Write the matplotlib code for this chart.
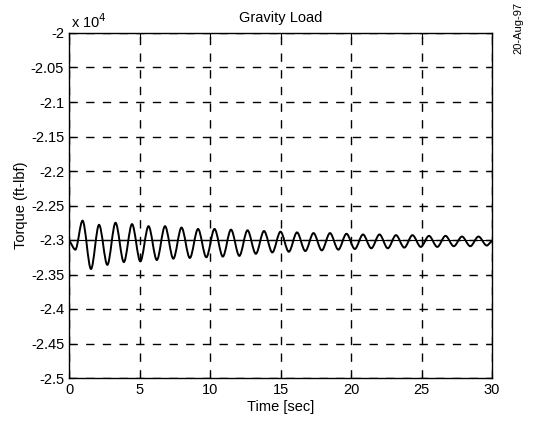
import matplotlib
matplotlib.use("Agg")
import matplotlib.pyplot as plt
from matplotlib.ticker import FuncFormatter
from matplotlib.path import Path
from matplotlib.patches import PathPatch

plt.rcParams['font.family'] = ['Liberation Sans', 'DejaVu Sans']

# torque, ft-lbf (turning points of the oscillation)
time_s = [0.0, 0.45, 0.96, 1.56, 2.13, 2.72, 3.30, 3.89, 4.47, 5.06, 5.64, 6.23,
          6.81, 7.40, 7.98, 8.57, 9.15, 9.74, 10.32, 10.91, 11.49, 12.08, 12.66,
          13.25, 13.83, 14.42, 15.00, 15.59, 16.17, 16.76, 17.34, 17.93, 18.51,
          19.10, 19.68, 20.27, 20.85, 21.44, 22.02, 22.61, 23.19, 23.78, 24.36,
          24.95, 25.53, 26.12, 26.70, 27.29, 27.87, 28.46, 29.04, 29.63, 30.0]
torque = [-23020, -23140, -22720, -23420, -22780, -23360, -22750, -23320, -22770,
          -23310, -22800, -23290, -22800, -23270, -22820, -23260, -22840, -23250,
          -22840, -23240, -22850, -23230, -22860, -23200, -22870, -23180, -22880,
          -23170, -22890, -23160, -22900, -23150, -22900, -23140, -22910, -23130,
          -22920, -23120, -22920, -23120, -22930, -23110, -22930, -23100, -22940,
          -23100, -22940, -23090, -22950, -23090, -22950, -23080, -23020]
static_t = [0.0, 30.0]
static_torque = [-23000, -23000]

scale = 1e4

fig = plt.figure(figsize=(5.34, 4.25), dpi=100)
ax = fig.add_axes([69/534, 1-378/425, 423/534, 345/425])

ax.plot(static_t, [v/scale for v in static_torque], color='black', linewidth=0.8)

# smooth curve through the turning points (flat tangent at each one)
ys = [v/scale for v in torque]
verts = [(time_s[0], ys[0])]
codes = [Path.MOVETO]
for i in range(1, len(time_s)):
    dt = time_s[i] - time_s[i-1]
    verts += [(time_s[i-1] + dt/3, ys[i-1]), (time_s[i] - dt/3, ys[i]), (time_s[i], ys[i])]
    codes += [Path.CURVE4] * 3
ax.add_patch(PathPatch(Path(verts, codes), facecolor='none', edgecolor='black',
                       linewidth=1.4, transform=ax.transData))

ax.set_xlim(0, 30)
ax.set_ylim(-2.5, -2.0)
ax.set_xticks([0, 5, 10, 15, 20, 25, 30])
ax.set_yticks([-2.5, -2.45, -2.4, -2.35, -2.3, -2.25, -2.2, -2.15, -2.1, -2.05, -2.0])
ax.yaxis.set_major_formatter(FuncFormatter(lambda v, p: '%g' % round(v, 2)))
ax.tick_params(direction='in', top=True, right=True, length=4, labelsize=10.5, colors='black')
ax.grid(True, color='black', linestyle=(0, (6, 6)), linewidth=1.0)
for s in ax.spines.values():
    s.set_linewidth(1.0)

ax.set_title('Gravity Load', fontsize=10.5, pad=8)
ax.set_xlabel('Time [sec]', fontsize=10.5, labelpad=2)
ax.set_ylabel('Torque (ft-lbf)', fontsize=10.5, labelpad=2)
ax.text(0.005, 1.005, r'x 10$^4$', transform=ax.transAxes, fontsize=10.5, ha='left', va='bottom')
fig.text(518/534, 1-2/425, '20-Aug-97', rotation=90, fontsize=8, ha='center', va='top')

fig.savefig('out.png', dpi=100)
